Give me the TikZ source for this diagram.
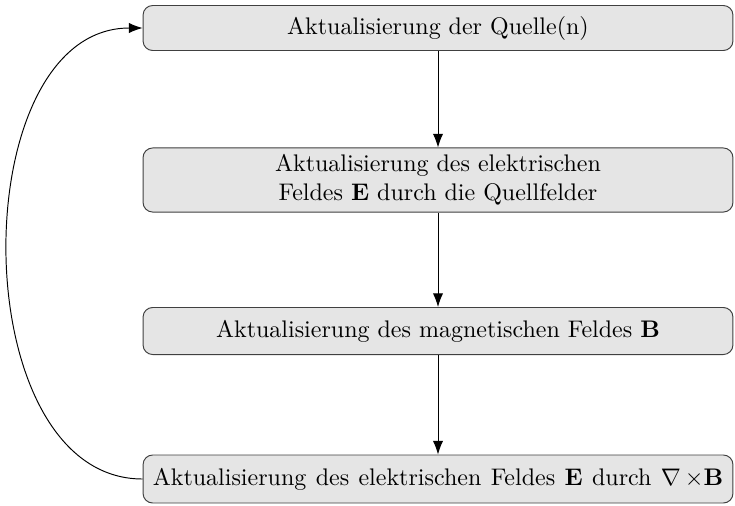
\documentclass[tikz,border=0pt]{standalone}
\usepackage{amsmath,amssymb}
\usetikzlibrary{arrows.meta,positioning}
\tikzset{
  stepbox/.style={draw=black!75,fill=gray!20,rounded corners=4pt,
    minimum width=245.8pt,align=center,inner sep=2pt},
  flow/.style={-{Latex[length=2mm,width=1.5mm]}}
}
\begin{document}
\begin{tikzpicture}[x=0.4167pt,y=-0.4167pt]
        \useasboundingbox (0,0) rectangle (735,505);
        \node[stepbox,minimum height=18.75pt] (quelle) at (438,28) {Aktualisierung der Quelle(n)};
        \node[stepbox,minimum height=26.7pt] (efeld) at (438,180) {Aktualisierung des elektrischen\\Feldes $\mathbf{E}$ durch die Quellfelder};
        \node[stepbox,minimum height=19.6pt] (bfeld) at (438,331) {Aktualisierung des magnetischen Feldes $\mathbf{B}$};
        \node[stepbox,minimum height=20pt] (rotb) at (438,479) {\spaceskip=3.9pt plus 1pt Aktualisierung des elektrischen Feldes $\mathbf{E}$ durch $\nabla\,{\times}\mathbf{B}$};
        \draw[flow] (quelle) -- (efeld);
        \draw[flow] (efeld) -- (bfeld);
        \draw[flow] (bfeld) -- (rotb);
        \draw[flow] (rotb.west) .. controls +(-180,0) and +(-180,0) .. (quelle.west);
      \end{tikzpicture}
\end{document}
